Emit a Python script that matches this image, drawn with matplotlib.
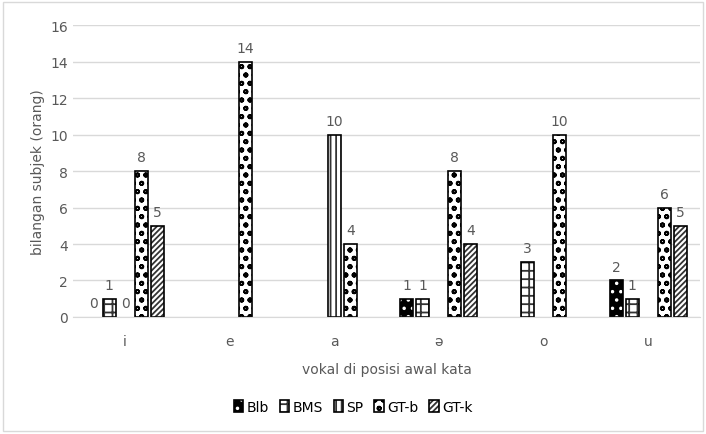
import numpy as np
import matplotlib.pyplot as plt
import matplotlib as mpl

# data (nan = no bar / no label)
vokal = ['i', 'e', 'a', 'ə', 'o', 'u']
seri = ['Blb', 'BMS', 'SP', 'GT-b', 'GT-k']
blb = [0, np.nan, np.nan, 1, np.nan, 2]
bms = [1, np.nan, np.nan, 1, 3, 1]
sp = [0, np.nan, 10, np.nan, np.nan, np.nan]
gt_b = [8, 14, 4, 8, 10, 6]
gt_k = [5, np.nan, np.nan, 4, np.nan, 5]

mpl.rcParams['hatch.linewidth'] = 1.3
grey = '#595959'

fig = plt.figure(figsize=(7.06, 4.35), dpi=100)
ax = fig.add_axes([0.103, 0.269, 0.889, 0.671])

x = np.arange(len(vokal))
step = 0.153
w = 0.124
gaya = [
    dict(facecolor='black', hatch='..', edgecolor='white'),
    dict(facecolor='white', hatch='++', edgecolor='#333333'),
    dict(facecolor='white', hatch='|||', edgecolor='#333333'),
    dict(facecolor='white', hatch='oo', edgecolor='black'),
    dict(facecolor='white', hatch='//////', edgecolor='#333333'),
]
handles = []
for k, (nama, nilai) in enumerate(zip(seri, [blb, bms, sp, gt_b, gt_k])):
    pos = x + (k - 2) * step
    tinggi = [np.nan if v == 0 else v for v in nilai]
    b1 = ax.bar(pos, tinggi, w, linewidth=0, **gaya[k])
    # black outline drawn separately so hatch colour can differ
    b2 = ax.bar(pos, tinggi, w, fill=False, edgecolor='black', linewidth=1.2)
    handles.append((b1.patches[0], b2.patches[0]))
    for p, v in zip(pos, nilai):
        if not np.isnan(v):
            ax.annotate(f'{int(v)}', (p, v), xytext=(0, 5), textcoords='offset points',
                        ha='center', va='bottom', fontsize=10, color=grey)

ax.set_ylim(0, 16)
ax.set_yticks(range(0, 17, 2))
ax.set_xlim(-0.5, len(vokal) - 0.5)
ax.set_xticks(x)
ax.set_xticklabels(vokal)
ax.tick_params(length=0, colors=grey, labelsize=10)
ax.tick_params(axis='x', pad=12)
ax.grid(axis='y', color='#d9d9d9', linewidth=1)
ax.set_axisbelow(True)
for s in ['top', 'right', 'left']:
    ax.spines[s].set_visible(False)
ax.spines['bottom'].set_color('#d9d9d9')
ax.set_ylabel('bilangan subjek (orang)', color=grey, fontsize=10)
ax.set_xlabel('vokal di posisi awal kata', color=grey, fontsize=10, labelpad=10)

fig.legend(handles, seri, loc='center', bbox_to_anchor=(0.5, 0.062), ncol=5, frameon=False,
           fontsize=10, handlelength=0.7, handleheight=0.9, handletextpad=0.2,
           columnspacing=0.8)

fig.patches.append(mpl.patches.Rectangle((0.004, 0.006), 0.992, 0.986, transform=fig.transFigure,
                                         fill=False, edgecolor='#d9d9d9', linewidth=1))
fig.savefig('out.png', dpi=100)
